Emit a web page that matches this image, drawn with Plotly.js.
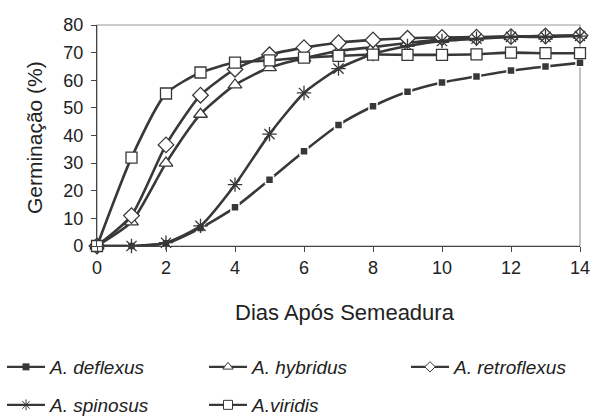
<!DOCTYPE html>
<html>
<head>
<meta charset="utf-8">
<script src="https://cdn.plot.ly/plotly-3.0.1.min.js"></script>
<style>html,body{margin:0;padding:0;background:#fff;}#chart{width:592px;height:417px;}</style>
</head>
<body>
<div id="chart"></div>
<script>
const days = [0,1,2,3,4,5,6,7,8,9,10,11,12,13,14];
const deflexus    = [0,0,1,6.5,14,24,34.3,43.8,50.6,55.8,59.2,61.4,63.5,65,66.3];
const hybridus    = [0,8.7,30,47.7,58.3,64.6,68,70.6,72,73.5,74.8,75.4,75.8,76,76.3];
const retroflexus = [0,11,36.6,54.6,64,69.2,71.8,73.6,74.6,75.2,75.5,75.6,75.8,76,76.2];
const spinosus    = [0,0,1.2,7.3,22.2,40.5,55.4,64.2,69.5,72.4,74.2,75,75.7,75.7,76];
const viridis     = [0,32,55.2,62.8,66.4,67.2,68.2,68.8,69.3,69.2,69.2,69.4,70,69.8,69.8];
const names = ['A. deflexus','A. hybridus','A. retroflexus','A. spinosus','A.viridis'];
const seriesList = [deflexus, hybridus, retroflexus, spinosus, viridis];
const legendIds = ['legend','legend2','legend3','legend4','legend5'];
const xTitle = 'Dias Após Semeadura';
const yTitle = 'Germinação (%)';

const C = '#383838';
const markers = [
  {symbol:'square', size:8, color:C, line:{color:'#ffffff', width:1.5}},
  {symbol:'triangle-up', size:12, color:'#ffffff', line:{color:C, width:1.3}},
  {symbol:'diamond', size:12, color:'#ffffff', line:{color:C, width:1.3}},
  {symbol:'asterisk-open', size:12, color:C, line:{color:C, width:1.3}},
  {symbol:'square', size:11, color:'#ffffff', line:{color:C, width:1.3}}
];
const legMarkers = [
  {symbol:'square', size:7, color:C, line:{color:C, width:0}},
  {symbol:'triangle-up', size:9, color:'#ffffff', line:{color:C, width:1}},
  {symbol:'diamond', size:8, color:'#ffffff', line:{color:C, width:1}},
  {symbol:'asterisk-open', size:9, color:C, line:{color:C, width:1}},
  {symbol:'square', size:9, color:'#ffffff', line:{color:C, width:1}}
];

const traces = seriesList.map((ys,i)=>({
  x: days, y: ys, name: names[i], type:'scatter', mode:'lines+markers',
  line:{color:C, width:2.6, shape:'spline', smoothing:0.6},
  marker: markers[i], cliponaxis:false, showlegend:false
}));
const legTraces = names.map((n,i)=>({
  x:[null], y:[null], name:n, type:'scatter', mode:'lines+markers',
  line:{color:C, width:2.2}, marker: legMarkers[i], legend: legendIds[i]
}));

const legBase = {orientation:'v', xref:'container', yref:'container', xanchor:'left', yanchor:'middle',
  font:{size:19, style:'italic', color:'#222', family:'Liberation Sans, Arial, sans-serif'},
  itemwidth:38, bgcolor:'rgba(0,0,0,0)'};
const legPos = [[2,367],[204,367],[406,367],[2,405],[204,405]];

const layout = {
  width:592, height:417,
  margin:{l:97, r:12, t:25, b:171, autoexpand:false},
  paper_bgcolor:'#fff', plot_bgcolor:'#fff',
  font:{family:'Liberation Sans, Arial, sans-serif', color:'#222', size:18},
  showlegend:true,
  xaxis:{range:[0,14], tickvals:[0,2,4,6,8,10,12,14], showgrid:false, zeroline:false,
    showline:true, linecolor:'#444', linewidth:1.2, ticks:'outside', ticklen:5, tickcolor:'#444',
    tickfont:{size:18}, automargin:false},
  yaxis:{range:[0,80], dtick:10, showgrid:false, zeroline:false,
    showline:true, linecolor:'#444', linewidth:1.2, ticks:'outside', ticklen:5, tickcolor:'#444',
    tickfont:{size:18}, ticklabelstandoff:4, automargin:false},
  annotations:[
    {text:xTitle, xref:'paper', yref:'paper', x:0.513, y:-0.299, xanchor:'center', yanchor:'middle',
     showarrow:false, font:{size:22, color:'#222'}},
    {text:yTitle, xref:'paper', yref:'paper', x:-0.128, y:0.489, xanchor:'center', yanchor:'middle',
     textangle:-90, showarrow:false, font:{size:21, color:'#222'}}
  ],
  shapes:[{type:'rect', xref:'paper', yref:'paper', x0:0, x1:1, y0:0, y1:1, line:{color:'#999', width:1.2}, layer:'below'}]
};
legendIds.forEach((id,i)=>{
  layout[id] = Object.assign({}, legBase, {x: legPos[i][0]/592, y: 1 - legPos[i][1]/417});
});
Plotly.newPlot('chart', traces.concat(legTraces), layout, {displayModeBar:false, staticPlot:true});
</script>
</body>
</html>
